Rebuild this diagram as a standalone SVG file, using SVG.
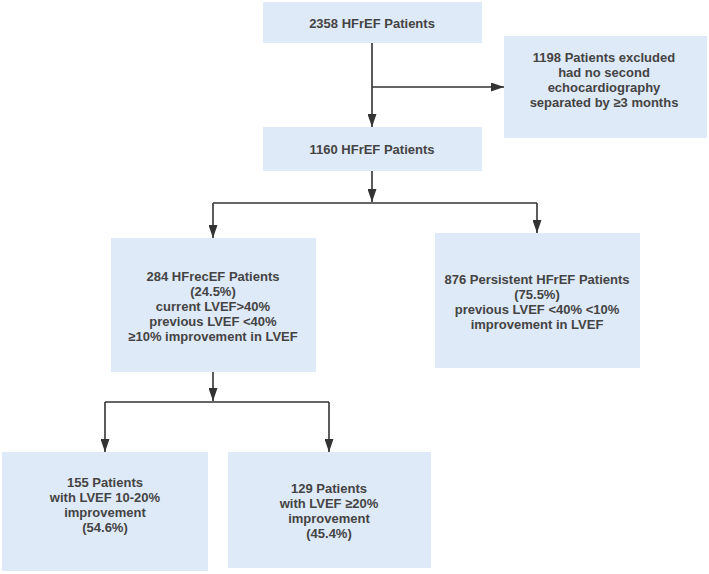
<svg xmlns="http://www.w3.org/2000/svg" width="709" height="574" viewBox="0 0 709 574">
<style>
.box{fill:#deeaf7;}
.t{font-family:"Liberation Sans",Arial,sans-serif;font-size:13px;font-weight:bold;fill:#444;text-anchor:middle;}
.c{fill:none;stroke:#333;stroke-width:1.6;}
</style>
<defs>
<marker id="ah" viewBox="0 0 13 9" refX="13" refY="4.5" markerWidth="13" markerHeight="9" markerUnits="userSpaceOnUse" orient="auto">
<path d="M0,0 L13,4.5 L0,9 Z" fill="#333"/>
</marker>
</defs>
<rect width="709" height="574" fill="#fff"/>
<g id="connectors">
<path class="c" d="M372,43 V127" marker-end="url(#ah)"/>
<path class="c" d="M372,87 H504" marker-end="url(#ah)"/>
<path class="c" d="M372,171 V202" marker-end="url(#ah)"/>
<path class="c" d="M213,203 H537"/>
<path class="c" d="M213,203 V238" marker-end="url(#ah)"/>
<path class="c" d="M537,203 V233" marker-end="url(#ah)"/>
<path class="c" d="M213,372 V401" marker-end="url(#ah)"/>
<path class="c" d="M105,402 H329"/>
<path class="c" d="M105,402 V452" marker-end="url(#ah)"/>
<path class="c" d="M329,402 V452" marker-end="url(#ah)"/>
</g>
<g id="n1">
<rect class="box" x="263" y="2" width="219" height="41"/>
<text class="t" x="372" y="28">2358 HFrEF Patients</text>
</g>
<g id="n2">
<rect class="box" x="504" y="36" width="203" height="102"/>
<text class="t" x="604" y="62">1198 Patients excluded</text>
<text class="t" x="604" y="77">had no second</text>
<text class="t" x="604" y="92">echocardiography</text>
<text class="t" x="604" y="107">separated by ≥3 months</text>
</g>
<g id="n3">
<rect class="box" x="263" y="127" width="219" height="44"/>
<text class="t" x="372" y="154">1160 HFrEF Patients</text>
</g>
<g id="n4">
<rect class="box" x="111" y="238" width="205" height="134"/>
<text class="t" x="213" y="281">284 HFrecEF Patients</text>
<text class="t" x="213" y="296">(24.5%)</text>
<text class="t" x="213" y="311">current LVEF&gt;40%</text>
<text class="t" x="213" y="326">previous LVEF &lt;40%</text>
<text class="t" x="213" y="341">≥10% improvement in LVEF</text>
</g>
<g id="n5">
<rect class="box" x="435" y="233" width="205" height="135"/>
<text class="t" x="537" y="284">876 Persistent HFrEF Patients</text>
<text class="t" x="537" y="299">(75.5%)</text>
<text class="t" x="537" y="314">previous LVEF &lt;40% &lt;10%</text>
<text class="t" x="537" y="329">improvement in LVEF</text>
</g>
<g id="n6">
<rect class="box" x="2" y="452" width="206" height="119"/>
<text class="t" x="105" y="487">155 Patients</text>
<text class="t" x="105" y="502">with LVEF 10-20%</text>
<text class="t" x="105" y="517">improvement</text>
<text class="t" x="105" y="532">(54.6%)</text>
</g>
<g id="n7">
<rect class="box" x="228" y="452" width="203" height="116"/>
<text class="t" x="329" y="493">129 Patients</text>
<text class="t" x="329" y="508">with LVEF ≥20%</text>
<text class="t" x="329" y="523">improvement</text>
<text class="t" x="329" y="538">(45.4%)</text>
</g>
</svg>
